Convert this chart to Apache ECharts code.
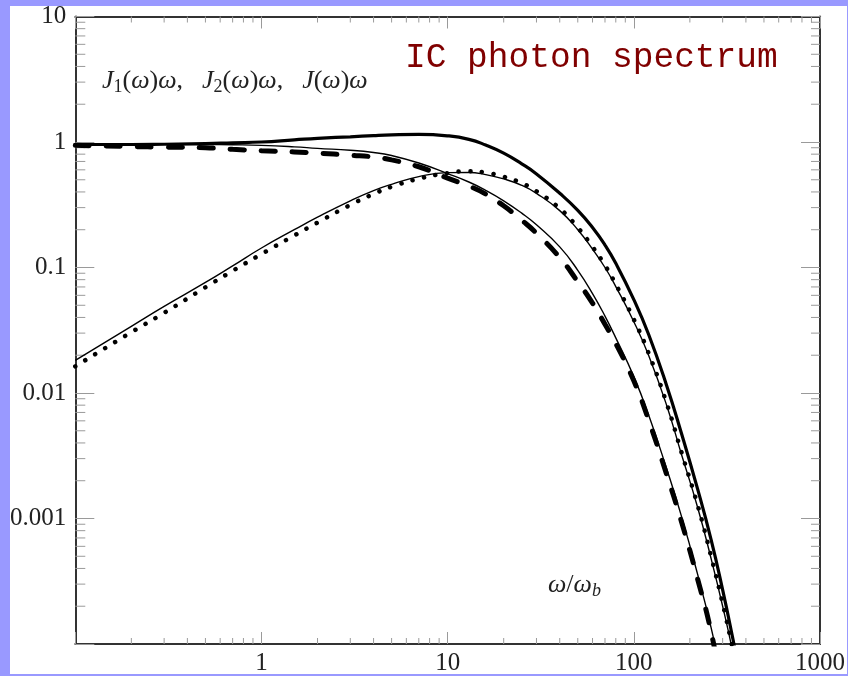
<!DOCTYPE html>
<html>
<head>
<meta charset="utf-8">
<script src="https://cdn.jsdelivr.net/npm/echarts@6/dist/echarts.min.js"></script>
<style>
html, body { margin: 0; padding: 0; background: #9999ff; }
#panel { position: absolute; left: 10px; top: 6px; width: 837px; height: 668px; background: #fff; }
#chart { position: absolute; left: 0; top: 0; width: 848px; height: 676px; }
</style>
</head>
<body>
<div id="panel"></div>
<div id="chart"></div>
<script>
// omega / omega_b
var omega = [0.1, 0.2, 0.3, 0.5, 0.7, 1, 1.5, 2, 3, 4, 5, 7, 10, 13, 16, 20, 25, 30, 40, 50, 60, 70, 80, 100, 120, 150, 180, 220, 260, 300, 340, 380]

// J(w)w  (thick solid)
var totalJ = [0.955, 0.955, 0.96, 0.97, 0.985, 1.0, 1.04, 1.07, 1.1, 1.125, 1.14, 1.15, 1.12, 1.05, 0.946, 0.815, 0.67, 0.557, 0.39, 0.285, 0.208, 0.151, 0.108, 0.0555, 0.0294, 0.0115, 0.0048, 0.00172, 0.00068, 0.00027, 0.000111, 0.000048]
// J1(w)w fit (thin solid) and numeric (dashed)
var j1Fit = [0.96, 0.96, 0.958, 0.955, 0.95, 0.94, 0.915, 0.89, 0.86, 0.825, 0.78, 0.68, 0.56, 0.48, 0.412, 0.34, 0.271, 0.219, 0.146, 0.095, 0.062, 0.041, 0.0275, 0.0135, 0.0067, 0.0025, 0.00105, 0.00036, 0.000135, 0.00005, 0.00002, 0.00001]
var j1 = [0.94, 0.92, 0.91, 0.9, 0.875, 0.852, 0.833, 0.816, 0.784, 0.76, 0.72, 0.635, 0.515, 0.446, 0.385, 0.31, 0.238, 0.1875, 0.12, 0.077, 0.052, 0.0353, 0.0248, 0.0125, 0.0061, 0.00225, 0.00095, 0.00033, 0.000125, 0.00004, 0.000015, 0.000005]
// J2(w)w fit (thin solid) and numeric (dotted)
var j2Fit = [0.0182, 0.034, 0.049, 0.076, 0.103, 0.143, 0.2, 0.252, 0.34, 0.41, 0.46, 0.53, 0.57, 0.572, 0.55, 0.508, 0.452, 0.39, 0.284, 0.2, 0.14, 0.1, 0.0705, 0.037, 0.02, 0.008, 0.00327, 0.00123, 0.00048, 0.0002, 0.000086, 0.000035]
var j2 = [0.0163, 0.0305, 0.0435, 0.0695, 0.094, 0.128, 0.18, 0.228, 0.315, 0.385, 0.44, 0.51, 0.565, 0.585, 0.57, 0.528, 0.47, 0.405, 0.295, 0.208, 0.146, 0.104, 0.0735, 0.0385, 0.0208, 0.0083, 0.0034, 0.00128, 0.0005, 0.00021, 0.00009, 0.000037]

// axis decoration: minor log ticks 2..9 in each decade
var xDecades = [0.1, 1, 10, 100]
var yDecades = [0.0001, 0.001, 0.01, 0.1, 1]
var minorSteps = [2, 3, 4, 5, 6, 7, 8, 9]

function pairs(xs, ys) {
    return xs.map(function (x, i) { return [x, ys[i]] })
}

var tickData = []
xDecades.forEach(function (d) {
    minorSteps.forEach(function (m) { tickData.push([d * m, 1, 0]) })
})
yDecades.forEach(function (d) {
    minorSteps.forEach(function (m) { tickData.push([1, d * m, 1]) })
})

var tickStyle = { stroke: "#9a9a9a", lineWidth: 1 }
function renderMinorTick(params, api) {
    var cs = params.coordSys
    var p = api.coord([api.value(0), api.value(1)])
    if (api.value(2) === 1) {
        return { type: "group", children: [
            { type: "line", shape: { x1: cs.x, y1: p[1], x2: cs.x + 10, y2: p[1] }, style: tickStyle },
            { type: "line", shape: { x1: cs.x + cs.width, y1: p[1], x2: cs.x + cs.width - 9, y2: p[1] }, style: tickStyle }
        ] }
    }
    return { type: "group", children: [
        { type: "line", shape: { x1: p[0], y1: cs.y + cs.height, x2: p[0], y2: cs.y + cs.height - 6 }, style: tickStyle },
        { type: "line", shape: { x1: p[0], y1: cs.y, x2: p[0], y2: cs.y + 6 }, style: tickStyle }
    ] }
}

var labelFont = "Liberation Serif"
var axisLine = { lineStyle: { color: "#333", width: 2 } }

function xAxisOf(pos, showLabel) {
    return {
        type: "log", logBase: 10, min: 0.1, max: 1000, position: pos,
        axisLine: axisLine,
        axisTick: { inside: true, length: 12, lineStyle: { color: "#9a9a9a", width: 1 } },
        axisLabel: {
            show: showLabel, margin: 7, fontFamily: labelFont, fontSize: 25, color: "#222",
            formatter: function (v) { return v < 0.5 ? "" : String(Math.round(v)) }
        },
        splitLine: { show: false }
    }
}
function yAxisOf(pos, showLabel) {
    return {
        type: "log", logBase: 10, min: 0.0001, max: 10, position: pos,
        axisLine: axisLine,
        axisTick: { inside: true, length: 19, lineStyle: { color: "#9a9a9a", width: 1 } },
        axisLabel: {
            show: showLabel, margin: 9, fontFamily: labelFont, fontSize: 25, color: "#222",
            formatter: function (v) {
                if (v < 0.0005) return ""
                return v >= 1 ? String(Math.round(v)) : String(parseFloat(v.toPrecision(1)))
            }
        },
        splitLine: { show: false }
    }
}

var mathText = { fontFamily: labelFont, fontSize: 26, fontStyle: "italic", fill: "#222", lineHeight: 30 }
var upText = { fontFamily: labelFont, fontSize: 26, fill: "#222", lineHeight: 30 }
var subText = { fontFamily: labelFont, fontSize: 18, fill: "#222", lineHeight: 16, verticalAlign: "bottom" }
var gap = { width: 19, lineHeight: 30 }

var chartDom = document.getElementById("chart")
var myChart = echarts.init(chartDom)
var option = {
    animation: false,
    grid: { left: 75.3, right: 26.3, top: 16.5, bottom: 29.4, containLabel: false },
    xAxis: [xAxisOf("bottom", true), xAxisOf("top", false)],
    yAxis: [yAxisOf("left", true), yAxisOf("right", false)],
    graphic: [
        {
            type: "text", x: 405, y: 58, z: 10,
            style: { text: "IC photon spectrum", fill: "#800000", font: '34.5px "Liberation Mono"', verticalAlign: "middle" }
        },
        {
            type: "text", x: 102, y: 81, z: 10,
            style: {
                text: "{j|J}{s|1}{p|(}{j|ω}{p|)}{j|ω}{p|,}{g|}{j|J}{s|2}{p|(}{j|ω}{p|)}{j|ω}{p|,}{g|}{j|J}{p|(}{j|ω}{p|)}{j|ω}",
                verticalAlign: "middle",
                rich: { j: mathText, p: upText, s: subText, g: gap }
            }
        },
        {
            type: "text", x: 548, y: 585, z: 10,
            style: {
                text: "{j|ω}{p|/}{j|ω}{b|b}",
                verticalAlign: "middle",
                rich: { j: mathText, p: upText, b: Object.assign({}, subText, { fontStyle: "italic" }) }
            }
        }
    ],
    series: [
        {
            type: "custom", name: "minorTicks", renderItem: renderMinorTick, data: tickData,
            xAxisIndex: 0, yAxisIndex: 0, z: 1, silent: true, clip: false
        },
        {
            type: "line", name: "J", data: pairs(omega, totalJ), showSymbol: false, smooth: true, z: 5,
            lineStyle: { color: "#000", width: 3.2 }
        },
        {
            type: "line", name: "J1 fit", data: pairs(omega, j1Fit), showSymbol: false, smooth: true, z: 5,
            lineStyle: { color: "#000", width: 1.4 }
        },
        {
            type: "line", name: "J1", data: pairs(omega, j1), showSymbol: false, smooth: true, z: 5,
            lineStyle: { color: "#000", width: 5, type: [14, 17], cap: "round" }
        },
        {
            type: "line", name: "J2 fit", data: pairs(omega, j2Fit), showSymbol: false, smooth: true, z: 5,
            lineStyle: { color: "#000", width: 1.4 }
        },
        {
            type: "line", name: "J2", data: pairs(omega, j2), showSymbol: false, smooth: true, z: 5,
            lineStyle: { color: "#000", width: 4.5, type: [0.1, 11.6], cap: "round" }
        }
    ]
}
myChart.setOption(option)
</script>
</body>
</html>
